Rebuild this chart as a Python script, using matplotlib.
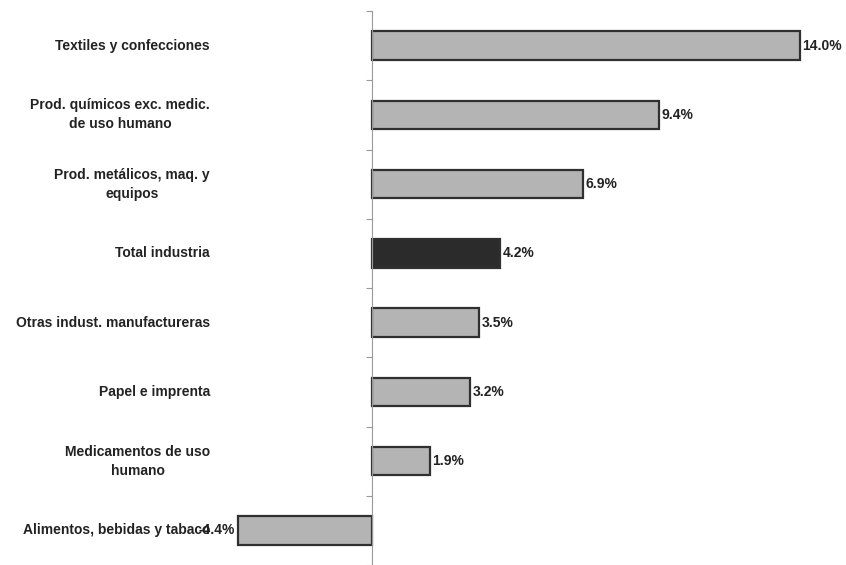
import matplotlib.pyplot as plt

categories = ['Textiles y confecciones',
              'Prod. químicos exc. medic.\nde uso humano',
              'Prod. metálicos, maq. y\nequipos',
              'Total industria',
              'Otras indust. manufactureras',
              'Papel e imprenta',
              'Medicamentos de uso\nhumano',
              'Alimentos, bebidas y tabaco']
values = [14.0, 9.4, 6.9, 4.2, 3.5, 3.2, 1.9, -4.4]
highlight = 'Total industria'

plt.rcParams['font.family'] = ['Liberation Sans', 'DejaVu Sans']

fig = plt.figure(figsize=(8.46, 5.65), dpi=100)
ax = fig.add_axes([236/846, 0, 610/846, 1 - 11/565])

pos = list(range(len(categories)))
colors = ['#2b2b2b' if c == highlight else '#b4b4b4' for c in categories]
ax.barh(pos, values, height=0.41, color=colors, edgecolor='#303030', linewidth=1.6)

ax.set_xlim(-4.45, 15.5)
ax.set_ylim(7 + 29/70, -0.5)

for s in ['top', 'right', 'bottom']:
    ax.spines[s].set_visible(False)
ax.spines['left'].set_position(('data', 0))
ax.spines['left'].set_color('#999999')
ax.set_xticks([])
ax.set_yticks([p - 0.5 for p in pos] + [7.5])
ax.set_yticklabels([])
ax.tick_params(axis='y', length=4, color='#999999', direction='out')

tr = ax.get_yaxis_transform()
for p, c in zip(pos, categories):
    ax.text(-26/610, p, c, transform=tr, ha='right', va='center',
            multialignment='center', linespacing=1.45,
            fontsize=10, fontweight='bold', color='#222222')

for p, v in zip(pos, values):
    if v >= 0:
        ax.text(v + 0.08, p, '%.1f%%' % v, ha='left', va='center',
                fontsize=10, fontweight='bold', color='#222222')
    else:
        ax.text(v - 0.08, p, '%.1f%%' % v, ha='right', va='center',
                fontsize=10, fontweight='bold', color='#222222')

fig.savefig('out.png', dpi=100)
